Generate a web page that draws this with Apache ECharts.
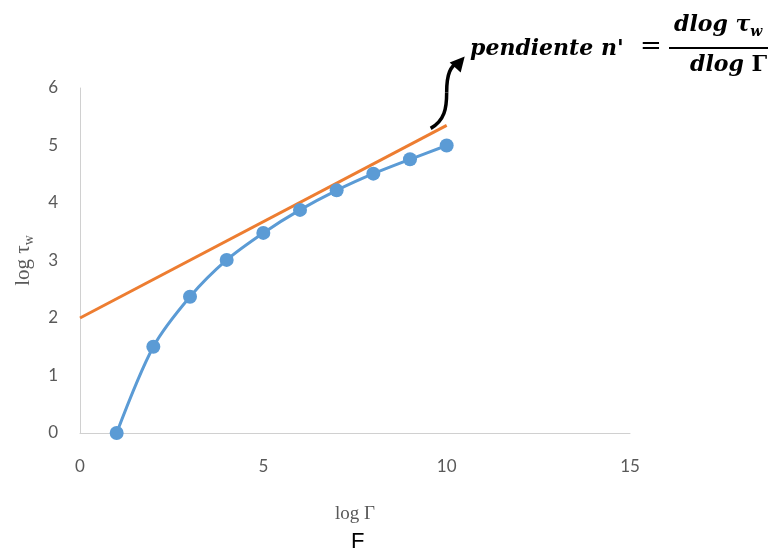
<!DOCTYPE html>
<html>
<head>
<meta charset="utf-8">
<script src="https://cdn.jsdelivr.net/npm/echarts@6/dist/echarts.min.js"></script>
<style>
  html, body { margin: 0; padding: 0; background: #fff; }
  #chart { width: 773px; height: 554px; }
</style>
</head>
<body>
<div id="chart"></div>
<script>
// log Γ values and the measured log τw curve
const logGamma = [1, 2, 3, 4, 5, 6, 7, 8, 9, 10];
const logTau = [0, 1.5, 2.37, 3.01, 3.48, 3.88, 4.22, 4.51, 4.76, 5.0];

// straight line whose slope is n'
const tangentX = [0, 10];
const tangentY = [2, 5.35];

const xTicks = { min: 0, max: 15, interval: 5 };
const yTicks = { min: 0, max: 6, interval: 1 };

const chart = echarts.init(document.getElementById('chart'));

const axisGray = '#595959';
const serif = '"DejaVu Serif", "Liberation Serif", serif';

chart.setOption({
  animation: false,
  backgroundColor: '#ffffff',
  grid: { left: 80, right: 143, top: 88, bottom: 121 },
  title: {
    text: 'F',
    left: 346,
    top: 526,
    textStyle: { color: '#000', fontFamily: 'Liberation Sans, Arial', fontSize: 22, fontWeight: 'normal' }
  },
  xAxis: {
    type: 'value',
    min: xTicks.min, max: xTicks.max, interval: xTicks.interval,
    axisLine: { show: true, lineStyle: { color: '#d0d0d0', width: 1 } },
    axisTick: { show: false },
    splitLine: { show: false },
    axisLabel: { color: axisGray, fontSize: 17, fontFamily: 'Lato, Liberation Sans, Arial', margin: 25 },
    name: 'log Γ',
    nameLocation: 'middle',
    nameGap: 72,
    nameTextStyle: { color: axisGray, fontSize: 19, fontFamily: '"Liberation Serif", serif' }
  },
  yAxis: {
    type: 'value',
    min: yTicks.min, max: yTicks.max, interval: yTicks.interval,
    axisLine: { show: true, lineStyle: { color: '#d0d0d0', width: 1 } },
    axisTick: { show: false },
    splitLine: { show: false },
    axisLabel: { color: axisGray, fontSize: 17, fontFamily: 'Lato, Liberation Sans, Arial', margin: 22 },
    name: '{m|log τ}{s|w}',
    nameLocation: 'middle',
    nameGap: 44,
    nameRotate: 90,
    nameTextStyle: {
      rich: {
        m: { color: axisGray, fontSize: 21, lineHeight: 26, fontFamily: '"Liberation Serif", serif' },
        s: { color: axisGray, fontSize: 14, lineHeight: 14, verticalAlign: 'bottom', fontFamily: '"Liberation Serif", serif' }
      }
    }
  },
  series: [
    {
      type: 'line',
      data: tangentX.map((x, i) => [x, tangentY[i]]),
      symbol: 'none',
      lineStyle: { color: '#ed7d31', width: 3 },
      z: 2
    },
    {
      type: 'line',
      data: logGamma.map((x, i) => [x, logTau[i]]),
      smooth: 0.3,
      symbol: 'circle',
      symbolSize: 14,
      itemStyle: { color: '#5b9bd5' },
      lineStyle: { color: '#5b9bd5', width: 3 },
      z: 3
    }
  ]
});

// curved arrow from the end of the tangent up to the slope formula
const end = chart.convertToPixel({ gridIndex: 0 }, [tangentX[1], tangentY[1]]);
const sx = end[0] - 16, sy = end[1] + 3;
const tip = [sx + 34, sy - 72];

const fml = { fontFamily: serif, fontStyle: 'italic', fontWeight: 'bold', fill: '#000' };

chart.setOption({
  graphic: [
    {
      type: 'bezierCurve',
      shape: {
        x1: sx, y1: sy, x2: sx + 16, y2: sy - 36,
        cpx1: sx + 14, cpy1: sy - 8, cpx2: sx + 16, cpy2: sy - 20
      },
      style: { stroke: '#000', lineWidth: 3.5, fill: null },
      z: 10
    },
    {
      type: 'bezierCurve',
      shape: {
        x1: sx + 16, y1: sy - 36, x2: sx + 27, y2: sy - 66,
        cpx1: sx + 16, cpy1: sy - 55, cpx2: sx + 20, cpy2: sy - 62
      },
      style: { stroke: '#000', lineWidth: 3.5, fill: null },
      z: 10
    },
    {
      type: 'polygon',
      shape: { points: [tip, [tip[0] - 15, tip[1] + 6], [tip[0] - 4, tip[1] + 16]] },
      style: { fill: '#000' },
      z: 10
    },
    {
      type: 'text',
      left: 470, top: 38,
      style: Object.assign({ text: "pendiente n'", fontSize: 22 }, fml),
      z: 10
    },
    {
      type: 'text',
      left: 640, top: 34,
      style: { text: '=', fontSize: 26, fontFamily: serif, fill: '#000' },
      z: 10
    },
    {
      type: 'text',
      left: 674, top: 14,
      style: {
        text: '{a|dlog τ}{b|w}',
        rich: {
          a: Object.assign({ fontSize: 22, lineHeight: 28 }, fml),
          b: Object.assign({ fontSize: 14, lineHeight: 14, verticalAlign: 'bottom' }, fml)
        }
      },
      z: 10
    },
    {
      type: 'line',
      shape: { x1: 669, y1: 48, x2: 768, y2: 48 },
      style: { stroke: '#000', lineWidth: 2 },
      z: 10
    },
    {
      type: 'text',
      left: 690, top: 54,
      style: {
        text: '{a|dlog }{g|Γ}',
        rich: {
          a: Object.assign({ fontSize: 22 }, fml),
          g: { fontSize: 22, fontFamily: serif, fontWeight: 'bold', fill: '#000' }
        }
      },
      z: 10
    }
  ]
});
</script>
</body>
</html>
